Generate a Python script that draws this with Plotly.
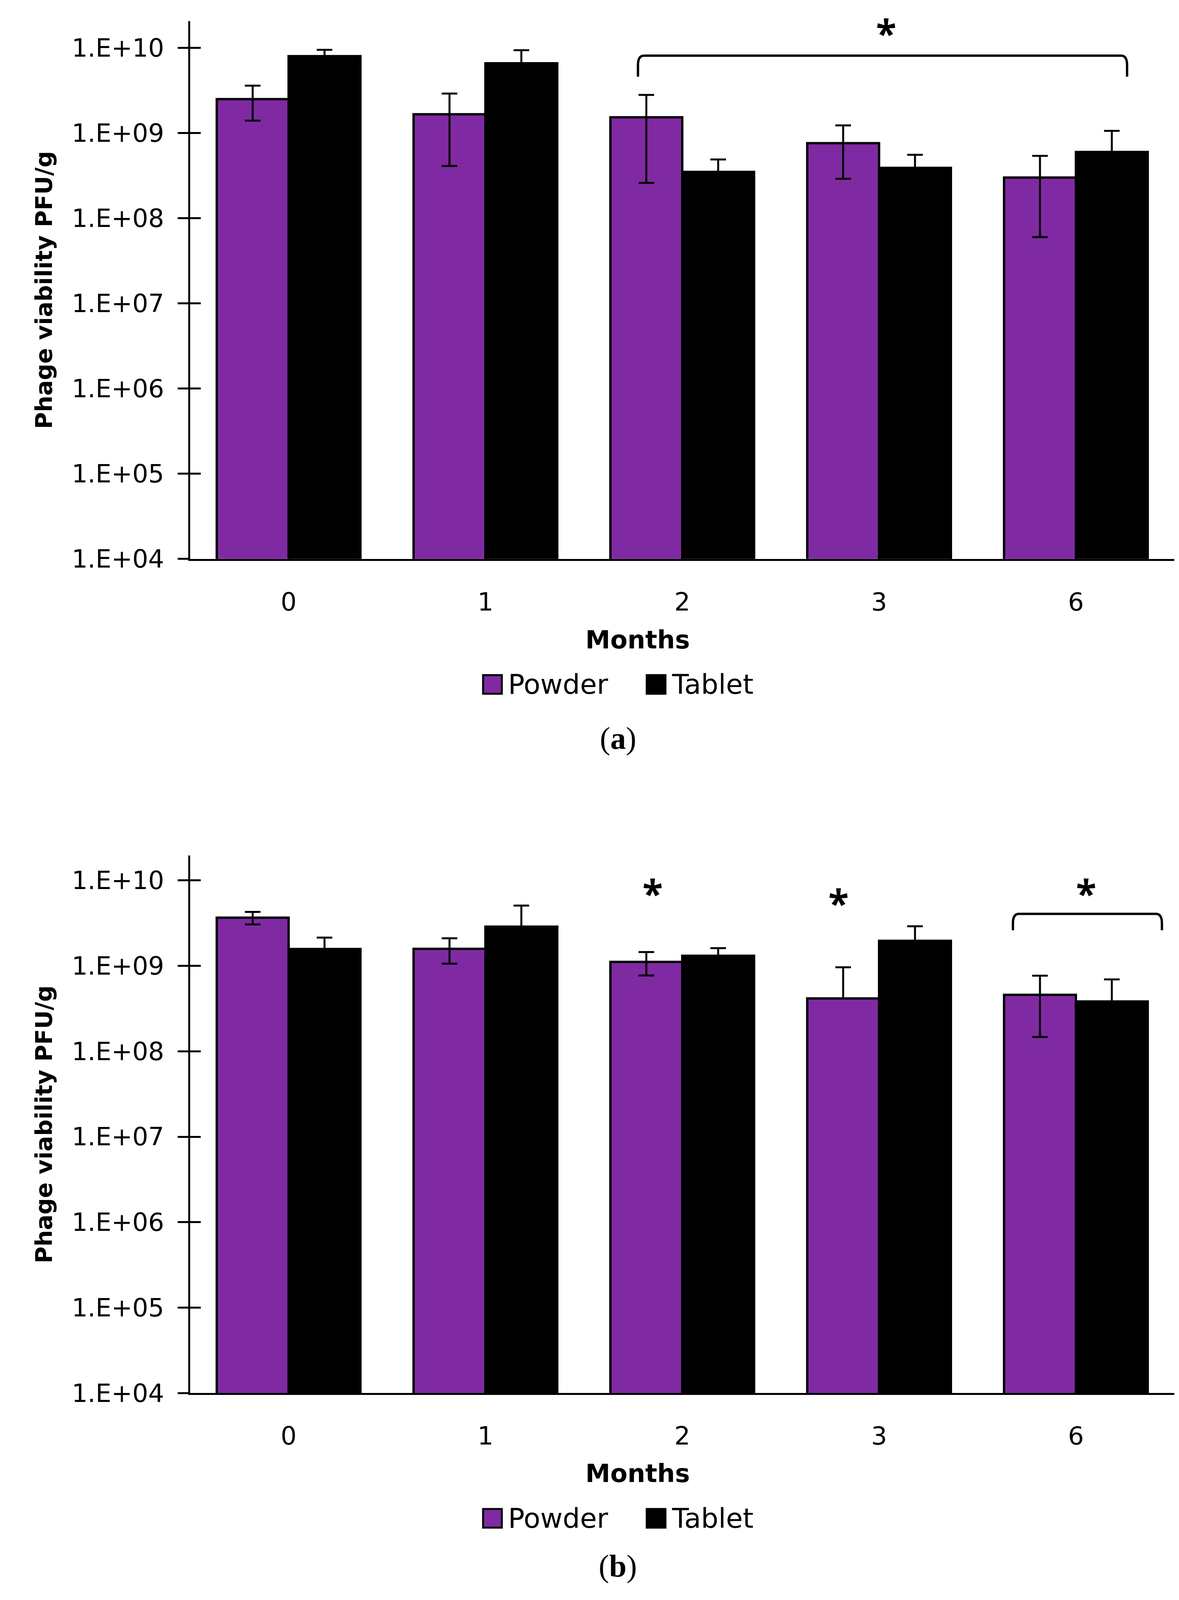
import plotly.graph_objects as go

months = ['0', '1', '2', '3', '6']

# panel (a)
powder_a = [2.5e9, 1.66e9, 1.53e9, 7.6e8, 3.0e8]
powder_a_sd = [1.1e9, 1.25e9, 1.27e9, 4.7e8, 2.4e8]
tablet_a = [8.0e9, 6.6e9, 3.5e8, 3.9e8, 6.0e8]
tablet_a_sd = [1.5e9, 2.8e9, 1.4e8, 1.66e8, 4.6e8]

# panel (b)
powder_b = [3.66e9, 1.58e9, 1.11e9, 4.15e8, 4.57e8]
powder_b_sd = [6.1e8, 5.2e8, 3.4e8, 5.45e8, 3.1e8]
tablet_b = [1.57e9, 2.87e9, 1.31e9, 1.96e9, 3.83e8]
tablet_b_sd = [5.7e8, 2.2e9, 3.0e8, 9.4e8, 3.1e8]

y_ticks = [1e4, 1e5, 1e6, 1e7, 1e8, 1e9, 1e10]
y_tick_text = ['1.E+04', '1.E+05', '1.E+06', '1.E+07', '1.E+08', '1.E+09', '1.E+10']

PURPLE = 'rgb(127, 42, 162)'
FONT = 'DejaVu Sans'

# layout is measured on the 3019x4269 original; the visible part of the
# browser window is a bit shorter, so squeeze the vertical positions to fit
REF_H = 4269
VIEW_H = 4120
K = VIEW_H / REF_H
MARGIN = 8  # default body margin of the page
W, H = 2999, VIEW_H - 2 * MARGIN - 6


def px(x):
    return (x - MARGIN) / W


def py(y):
    return 1 - (y * K - MARGIN) / H


def lower_err(vals, sd):
    # like Excel, drop the lower bar if it would go below zero on the log axis
    return [s if s < v else 0 for v, s in zip(vals, sd)]


def bar(vals, sd, color, xa, ya):
    return go.Bar(x=months, y=vals, xaxis=xa, yaxis=ya, showlegend=False,
                  marker=dict(color=color, line=dict(color='black', width=6)),
                  error_y=dict(type='data', symmetric=False, array=sd,
                               arrayminus=lower_err(vals, sd),
                               color='black', thickness=5, width=20))


fig = go.Figure()
fig.add_trace(bar(powder_a, powder_a_sd, PURPLE, 'x', 'y'))
fig.add_trace(bar(tablet_a, tablet_a_sd, 'black', 'x', 'y'))
fig.add_trace(bar(powder_b, powder_b_sd, PURPLE, 'x2', 'y2'))
fig.add_trace(bar(tablet_b, tablet_b_sd, 'black', 'x2', 'y2'))
# empty traces so the overlay axes (inner half of the tick marks) get drawn
fig.add_trace(go.Scatter(x=[], y=[], xaxis='x', yaxis='y3', showlegend=False))
fig.add_trace(go.Scatter(x=[], y=[], xaxis='x2', yaxis='y4', showlegend=False))

x_dom = [px(487), px(3007)]
panels = {
    'a': dict(top=56, bottom=1496, rng=[4, 10.316]),
    'b': dict(top=2290, bottom=3729, rng=[4, 10.29]),
}

tick_font = dict(family=FONT, size=64, color='black')

xaxis_style = dict(type='category', categoryorder='array', categoryarray=months,
                   showline=True, linecolor='black', linewidth=5, ticks='',
                   showgrid=False, zeroline=False, domain=x_dom,
                   tickfont=tick_font, ticklabelstandoff=50)


def yaxis_style(p, inner=False):
    d = dict(type='log', range=p['rng'], domain=[py(p['bottom']), py(p['top'])],
             tickvals=y_ticks, ticktext=y_tick_text, ticklen=27, tickwidth=5,
             tickcolor='black', showgrid=False, zeroline=False)
    if inner:
        d.update(ticks='inside', showticklabels=False, showline=False)
    else:
        d.update(ticks='outside', showline=True, linecolor='black', linewidth=5,
                 tickfont=tick_font, ticklabelstandoff=22)
    return d


fig.update_layout(
    width=W, height=H,
    margin=dict(l=0, r=0, t=0, b=0),
    paper_bgcolor='white', plot_bgcolor='white',
    barmode='group', bargap=0.27, bargroupgap=0,
    xaxis=dict(xaxis_style, anchor='y'),
    xaxis2=dict(xaxis_style, anchor='y2'),
    yaxis=dict(yaxis_style(panels['a']), anchor='x'),
    yaxis2=dict(yaxis_style(panels['b']), anchor='x2'),
    yaxis3=dict(yaxis_style(panels['a'], inner=True), anchor='x', overlaying='y'),
    yaxis4=dict(yaxis_style(panels['b'], inner=True), anchor='x2', overlaying='y2'),
)

annotations = []
shapes = []


def note(text, x, y, size, xref='paper', family=FONT, **kw):
    d = dict(text=text, x=x, y=y, xref=xref, yref='paper', showarrow=False,
             xanchor='center', yanchor='middle',
             font=dict(family=family, size=size, color='black'))
    d.update(kw)
    return d


# y positions (px from top of the original) of the text rows under each panel
text_rows = {
    'a': dict(months=1713, legend=1832, label=1977),
    'b': dict(months=3944, legend=4064, label=4192),
}

for key, p in panels.items():
    rows = text_rows[key]
    annotations.append(note('<b>Phage viability PFU/g</b>', px(112),
                            py((p['top'] + p['bottom']) / 2), 59, textangle=-90))
    annotations.append(note('<b>Months</b>', px(1632), py(rows['months']), 64))
    annotations.append(note('(<b>%s</b>)' % key, px(1582), py(rows['label']), 80,
                            family='Liberation Serif'))
    # legend
    ly = rows['legend']
    for x0, color, name in [(1237, PURPLE, 'Powder'), (1656, 'black', 'Tablet')]:
        shapes.append(dict(type='rect', xref='paper', yref='paper',
                           x0=px(x0), x1=px(x0 + 48), y0=py(ly + 25), y1=py(ly - 25),
                           fillcolor=color, line=dict(color='black', width=5)))
        annotations.append(note(name, px(x0 + 62), py(ly), 70, xanchor='left'))


def star(xref, xv, y):
    return note('<b>*</b>', xv, py(y + 22), 96, xref=xref, family='Open Sans')


def bracket(xref, x0, x1, y_top, y_end):
    rx, ry = 0.03, 0.006
    yt, yb = py(y_top), py(y_end)
    path = (f'M {x0},{yb} L {x0},{yt - ry} Q {x0},{yt} {x0 + rx},{yt} '
            f'L {x1 - rx},{yt} Q {x1},{yt} {x1},{yt - ry} L {x1},{yb}')
    return dict(type='path', path=path, xref=xref, yref='paper',
                line=dict(color='black', width=6))


idx = {m: i for i, m in enumerate(months)}

# panel (a): one bracket from month 2 to month 6
shapes.append(bracket('x', idx['2'] - 0.225, idx['6'] + 0.26, 149, 205))
annotations.append(star('x', idx['3'] + 0.036, 65))

# panel (b)
annotations.append(star('x2', idx['2'] - 0.151, 2368))
annotations.append(star('x2', idx['3'] - 0.206, 2394))
shapes.append(bracket('x2', idx['6'] - 0.32, idx['6'] + 0.437, 2446, 2490))
annotations.append(star('x2', idx['6'] + 0.052, 2368))

fig.update_layout(annotations=annotations, shapes=shapes)

fig.write_html("out.html")
